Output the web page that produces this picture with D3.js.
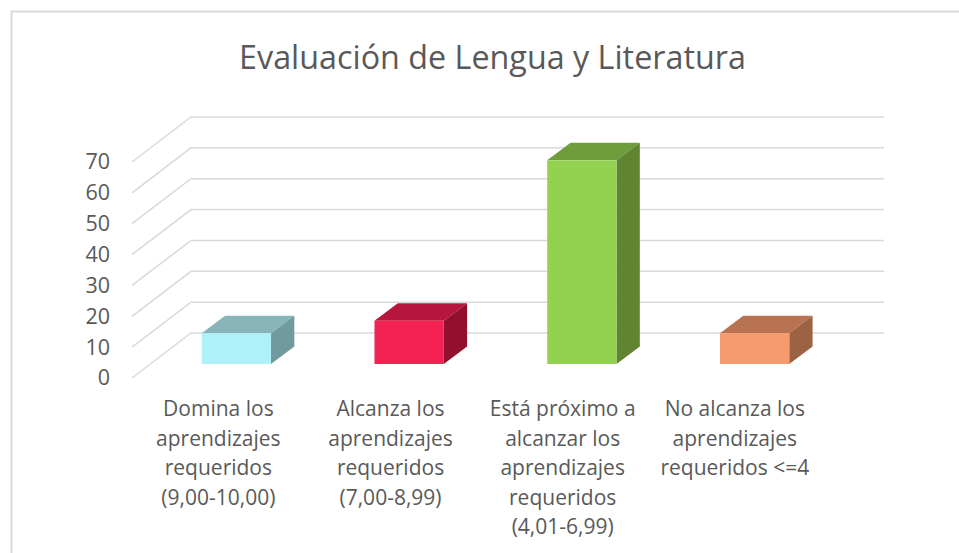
<!DOCTYPE html>
<html>
<head>
<meta charset="utf-8">
<script src="https://cdn.jsdelivr.net/npm/d3@7"></script>
<style>
  html, body { margin: 0; padding: 0; background: #fff; }
  svg { display: block; }
  text { font-family: "Open Sans", sans-serif; fill: #595959; }
</style>
</head>
<body>
<div class="bar-chart"></div>
<script>
const categories = [
    ["Domina los", "aprendizajes", "requeridos", "(9,00-10,00)"],
    ["Alcanza los", "aprendizajes", "requeridos", "(7,00-8,99)"],
    ["Está próximo a", "alcanzar los", "aprendizajes", "requeridos", "(4,01-6,99)"],
    ["No alcanza los", "aprendizajes", "requeridos <=4"]
];
const values = [10, 14, 66, 10];
const ticks = [0, 10, 20, 30, 40, 50, 60, 70];
const front = ["#aef1f9", "#f32252", "#92d250", "#f59b6e"];
const top_ = ["#87b5b9", "#b6163c", "#6f9d3c", "#b87352"];
const side = ["#709a9e", "#930f2e", "#618432", "#9b6244"];

const W = 959, H = 553;

// floor corner (value 0, front left) and depth of the wall
const x0 = 132, x1 = 825;
const y0 = 378, y70 = 162;
const wallDx = 59, wallDy = 45;

// bar sits inside the depth of the floor
const barDx = 18, barDy = 14;
const depthDx = 23.3, depthDy = 17.5;

const svg = d3.select(".bar-chart")
    .append("svg")
    .attr("width", W)
    .attr("height", H);

// chart frame, cropped on the right and at the bottom
svg.append("path")
    .attr("d", "M11.5,553V11.5H959")
    .attr("fill", "none")
    .attr("stroke", "#d9d9d9")
    .attr("stroke-width", 2);

svg.append("text")
    .attr("x", 492.5)
    .attr("y", 69)
    .attr("text-anchor", "middle")
    .style("font-size", "32.3px")
    .text("Evaluación de Lengua y Literatura");

const x = d3.scaleBand()
    .domain(categories.map((d, i) => i))
    .range([x0, x0 + 691]);

const y = d3.scaleLinear()
    .domain([0, 70])
    .range([y0, y70]);

// gridlines, running up the side wall then along the back
svg.append("g")
    .selectAll("path")
    .data(ticks)
    .enter()
    .append("path")
    .attr("d", d => "M" + x0 + "," + y(d) + "L" + (x0 + wallDx) + "," + (y(d) - wallDy) + "H" + (x1 + wallDx))
    .attr("fill", "none")
    .attr("stroke", "#d9d9d9")
    .attr("stroke-width", 1.5);

const yaxis = d3.axisLeft(y).tickValues(ticks).tickSize(0).tickPadding(22);
const yg = svg.append("g")
    .attr("transform", "translate(" + x0 + ",0)")
    .call(yaxis);
yg.select(".domain").remove();
yg.selectAll("text")
    .style("font-size", "21.5px")
    .style("font-family", "'Open Sans', sans-serif")
    .attr("fill", "#595959");

// bars: front, top and side faces
const barW = 69.3;
const bars = svg.append("g")
    .selectAll("g")
    .data(values)
    .enter()
    .append("g");

const left = (d, i) => x(i) + x.bandwidth() / 2 + barDx - barW / 2;
const base = y0 - barDy;
const topY = d => y(d) - barDy;

bars.append("path")
    .attr("d", (d, i) => {
        const l = left(d, i), t = topY(d);
        return "M" + l + "," + t + "l" + depthDx + "," + (-depthDy) + "h" + barW + "l" + (-depthDx) + "," + depthDy + "Z";
    })
    .attr("fill", (d, i) => top_[i]);

bars.append("path")
    .attr("d", (d, i) => {
        const r = left(d, i) + barW, t = topY(d);
        return "M" + r + "," + t + "l" + depthDx + "," + (-depthDy) + "V" + (base - depthDy) + "l" + (-depthDx) + "," + depthDy + "Z";
    })
    .attr("fill", (d, i) => side[i]);

bars.append("rect")
    .attr("x", left)
    .attr("y", d => topY(d))
    .attr("width", barW)
    .attr("height", d => base - topY(d))
    .attr("fill", (d, i) => front[i]);

// category labels, wrapped by hand as in the original
const labels = svg.append("g")
    .selectAll("text")
    .data(categories)
    .enter()
    .append("text")
    .attr("text-anchor", "middle")
    .style("font-size", "21px");

labels.selectAll("tspan")
    .data((d, i) => d.map(line => ({ line, i })))
    .enter()
    .append("tspan")
    .attr("x", d => x(d.i) + x.bandwidth() / 2 - d.i * 0.6)
    .attr("y", (d, j) => 416 + j * 29.6)
    .text(d => d.line);
</script>
</body>
</html>
